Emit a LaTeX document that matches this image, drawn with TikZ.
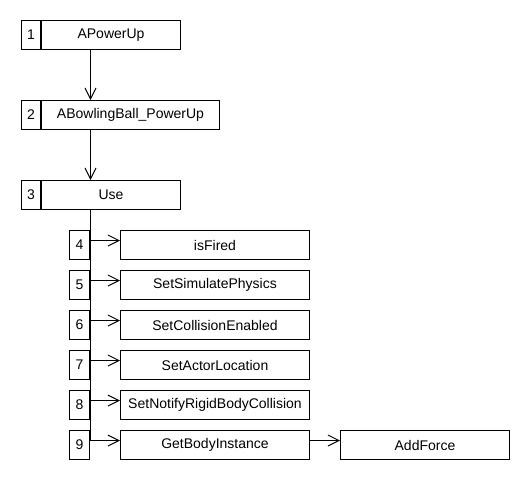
\documentclass[tikz,border=0pt]{standalone}
\usepackage{fontspec}
\setmainfont{Liberation Sans}
\usetikzlibrary{arrows.meta}
\begin{document}
\begin{tikzpicture}[x=1pt,y=-1pt,
  cell/.style={draw=black, line width=1pt, fill=white, inner sep=0pt,
    anchor=north west, minimum height=29pt,
    font=\fontsize{14}{16}\selectfont},
  numcell/.style={cell, minimum width=19pt},
  rownum/.style={cell, minimum width=20pt},
  rowcell/.style={cell, minimum width=189pt},
  link/.style={line width=1pt},
  arr/.style={line width=1pt, -{Straight Barb[length=11pt,width=11pt,line width=1pt]}},
]
\useasboundingbox[fill=white] (0,0) rectangle (530,480);

% call chain header
\node[numcell] (n1) at (21,20) {1};
\node[cell, minimum width=139pt] (m1) at (41,20) {APowerUp};
\node[numcell] (n2) at (21,100) {2};
\node[cell, minimum width=178pt] (m2) at (41,100) {ABowlingBall\_PowerUp};
\node[numcell] (n3) at (21,180) {3};
\node[cell, minimum width=139pt] (m3) at (41,180) {Use};

% calls made from Use
\node[rownum] (n4) at (69,230) {4};
\node[rowcell] (m4) at (120,230) {isFired};
\node[rownum] (n5) at (69,270) {5};
\node[rowcell] (m5) at (120,270) {SetSimulatePhysics};
\node[rownum] (n6) at (69,310) {6};
\node[rowcell] (m6) at (120,310) {SetCollisionEnabled};
\node[rownum] (n7) at (69,350) {7};
\node[rowcell] (m7) at (120,350) {SetActorLocation};
\node[rownum] (n8) at (69,390) {8};
\node[rowcell] (m8) at (120,390) {SetNotifyRigidBodyCollision};
\node[rownum] (n9) at (69,430) {9};
\node[rowcell] (m9) at (120,430) {GetBodyInstance};
\node[cell, minimum width=169pt] (add) at (340,430) {AddForce};

% trunk of the call tree
\coordinate (trunk) at (90.5,0);

\draw[arr] (m1.south -| trunk) -- (m2.north -| trunk);
\draw[arr] (m2.south -| trunk) -- (m3.north -| trunk);
\draw[link] (m3.south -| trunk) -- ([yshift=4.5pt]m9.west -| trunk);

\foreach \k in {4,...,9}{
  \draw[arr] ([yshift=4.5pt]m\k.west -| trunk) -- ([yshift=4.5pt]m\k.west);
}
\draw[arr] ([yshift=4.5pt]m9.east) -- ([yshift=4.5pt]add.west);
\end{tikzpicture}
\end{document}
